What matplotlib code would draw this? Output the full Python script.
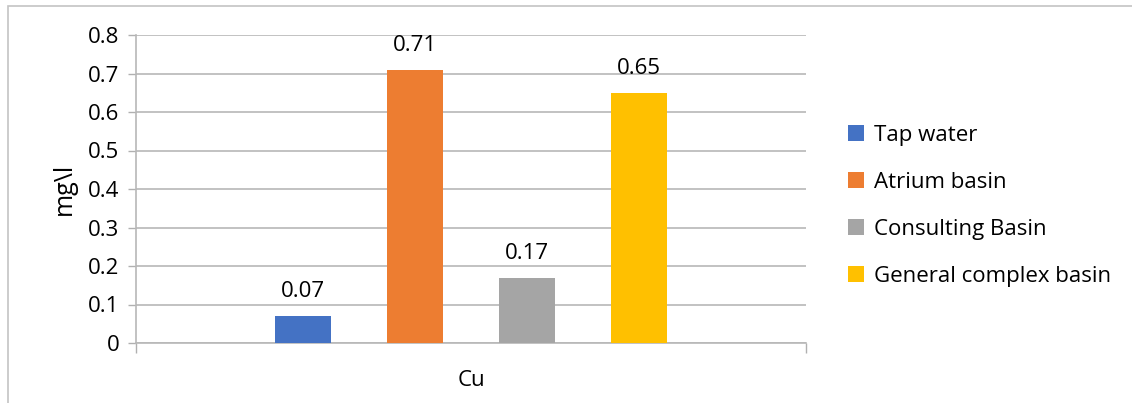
import matplotlib.pyplot as plt
from matplotlib.patches import Rectangle

plt.rcParams['font.family'] = ['Open Sans', 'DejaVu Sans']

series = ['Tap water', 'Atrium basin', 'Consulting Basin', 'General complex basin']
values = [0.07, 0.71, 0.17, 0.65]
colors = ['#4472C4', '#ED7D31', '#A5A5A5', '#FFC000']
category = 'Cu'
yticks = [0, 0.1, 0.2, 0.3, 0.4, 0.5, 0.6, 0.7, 0.8]

W, H = 1132, 403
fig = plt.figure(figsize=(W / 100, H / 100), dpi=100)
ax = fig.add_axes([136 / W, 1 - 343 / H, 670 / W, 308 / H])

# outer chart frame (runs off the image at right/bottom)
fig.patches.append(Rectangle((8 / W, -0.05), 1.1, 1 - 6 / H + 0.05,
                             transform=fig.transFigure, fill=False,
                             edgecolor='#c4c4c4', linewidth=1.2))

step = 0.1675
width = 0.084
for i, (name, v, c) in enumerate(zip(series, values, colors)):
    x = 0.5 + (i - 1.5) * step
    ax.bar(x, v, width=width, color=c, label=name, zorder=3)
    ax.annotate(f'{v:.2f}', (x, v), xytext=(0, 10), textcoords='offset points',
                ha='center', va='bottom', fontsize=16)

ax.set_xlim(0, 1)
ax.set_ylim(0, 0.8)
ax.set_yticks(yticks)
ax.set_yticklabels([f'{t:g}' for t in yticks], fontsize=16)
ax.set_xticks([0, 1])
ax.set_xticklabels([])
ax.tick_params(axis='y', length=6, color='#b0b0b0', width=1, pad=6)
ax.tick_params(axis='x', length=7, color='#b0b0b0', width=1)
ax.yaxis.grid(True, color='#b8b8b8', linewidth=1.2, zorder=0)
ax.set_axisbelow(True)
for s in ['top', 'right']:
    ax.spines[s].set_visible(False)
for s in ['left', 'bottom']:
    ax.spines[s].set_color('#b8b8b8')
    ax.spines[s].set_linewidth(1.2)

ax.set_ylabel('mg\\l', fontsize=18, labelpad=8)
fig.text(471 / W, 1 - 380 / H, category, ha='center', va='center', fontsize=16)

ax.legend(loc='center left', bbox_to_anchor=(828 / W, 1 - 206 / H),
          bbox_transform=fig.transFigure, frameon=False, fontsize=16,
          handlelength=0.7, handleheight=0.7, handletextpad=0.45,
          labelspacing=1.17)

fig.savefig('out.png', dpi=100)
